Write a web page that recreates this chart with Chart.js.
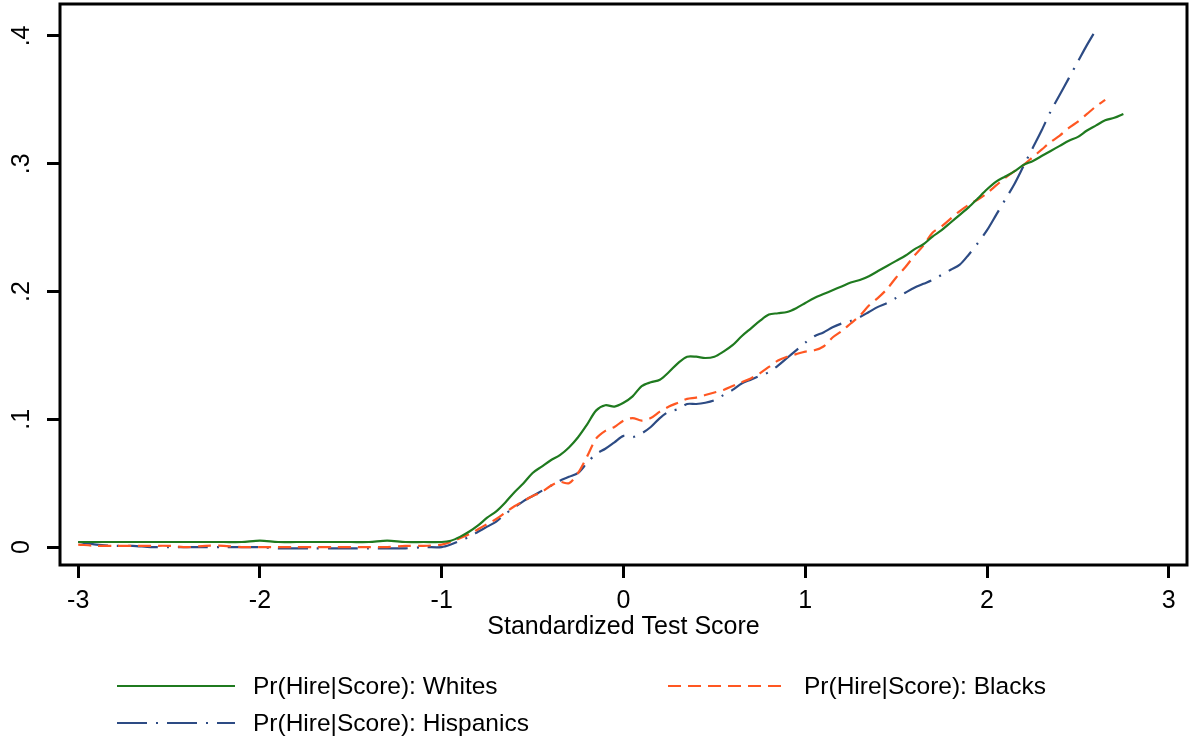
<!DOCTYPE html>
<html>
<head>
<meta charset="utf-8">
<script src="https://cdn.jsdelivr.net/npm/chart.js@4.4.1/dist/chart.umd.min.js"></script>
<style>
  html, body { margin: 0; padding: 0; background: #fff; }
  canvas { display: block; }
</style>
</head>
<body>
<canvas id="hirechart" width="1191" height="746"></canvas>
<script>
// standardized score grid (coarse on the flat left part)
const scores = [
    -3.0, -2.9, -2.8, -2.7, -2.6, -2.5, -2.4, -2.3, -2.2, -2.1,
    -2.0, -1.9, -1.8, -1.7, -1.6, -1.5, -1.4, -1.3, -1.2, -1.1,
    -1.0, -0.95, -0.9, -0.85, -0.8, -0.75, -0.7, -0.65, -0.6, -0.55,
    -0.5, -0.45, -0.4, -0.35, -0.3, -0.25, -0.2, -0.15, -0.1, -0.05,
    0.0, 0.05, 0.1, 0.15, 0.2, 0.25, 0.3, 0.35, 0.4, 0.45,
    0.5, 0.55, 0.6, 0.65, 0.7, 0.75, 0.8, 0.85, 0.9, 0.95,
    1.0, 1.05, 1.1, 1.15, 1.2, 1.25, 1.3, 1.35, 1.4, 1.45,
    1.5, 1.55, 1.6, 1.65, 1.7, 1.75, 1.8, 1.85, 1.9, 1.95,
    2.0, 2.05, 2.1, 2.15, 2.2, 2.25, 2.3, 2.35, 2.4, 2.45,
    2.5, 2.55, 2.6, 2.65, 2.7, 2.75
];

const whites = [
    0.004, 0.004, 0.004, 0.004, 0.004, 0.004, 0.004, 0.004, 0.004, 0.004,
    0.005, 0.004, 0.004, 0.004, 0.004, 0.004, 0.004, 0.005, 0.004, 0.004,
    0.004, 0.005, 0.008, 0.012, 0.017, 0.023, 0.028, 0.035, 0.043, 0.050,
    0.058, 0.063, 0.068, 0.072, 0.078, 0.086, 0.096, 0.107, 0.111, 0.110,
    0.113, 0.118, 0.126, 0.129, 0.131, 0.137, 0.144, 0.149, 0.149, 0.148,
    0.149, 0.153, 0.158, 0.165, 0.171, 0.177, 0.182, 0.183, 0.184, 0.187,
    0.191, 0.195, 0.198, 0.201, 0.204, 0.207, 0.209, 0.212, 0.216, 0.220,
    0.224, 0.228, 0.233, 0.237, 0.243, 0.248, 0.254, 0.260, 0.266, 0.273,
    0.280, 0.286, 0.290, 0.294, 0.299, 0.302, 0.306, 0.310, 0.314, 0.318,
    0.321, 0.326, 0.330, 0.334, 0.336, 0.339
];

const blacks = [
    0.002, 0.001, 0.001, 0.001, 0.001, 0.001, 0.000, 0.001, 0.001, 0.000,
    0.000, 0.000, 0.000, 0.000, 0.000, 0.000, 0.000, 0.000, 0.001, 0.001,
    0.002, 0.004, 0.007, 0.010, 0.014, 0.018, 0.022, 0.027, 0.032, 0.036,
    0.040, 0.043, 0.048, 0.051, 0.050, 0.058, 0.071, 0.085, 0.091, 0.094,
    0.099, 0.101, 0.099, 0.101, 0.106, 0.110, 0.113, 0.116, 0.117, 0.119,
    0.121, 0.123, 0.126, 0.129, 0.132, 0.136, 0.141, 0.146, 0.149, 0.151,
    0.153, 0.154, 0.157, 0.164, 0.169, 0.175, 0.181, 0.189, 0.195, 0.202,
    0.211, 0.219, 0.228, 0.236, 0.246, 0.251, 0.257, 0.263, 0.268, 0.272,
    0.277, 0.283, 0.289, 0.294, 0.299, 0.305, 0.311, 0.317, 0.322, 0.328,
    0.333, 0.339, 0.345, 0.350, null, null
];

const hispanics = [
    0.004, 0.002, 0.001, 0.001, 0.000, 0.000, 0.000, 0.000, 0.000, 0.000,
    0.000, -0.001, -0.001, -0.001, -0.001, -0.001, -0.001, -0.001, -0.001, 0.000,
    0.000, 0.002, 0.005, 0.008, 0.012, 0.016, 0.020, 0.026, 0.031, 0.036,
    0.040, 0.044, 0.048, 0.052, 0.055, 0.058, 0.066, 0.073, 0.077, 0.082,
    0.087, 0.086, 0.089, 0.094, 0.101, 0.106, 0.108, 0.112, 0.112, 0.113,
    0.115, 0.119, 0.123, 0.128, 0.131, 0.134, 0.137, 0.142, 0.148, 0.154,
    0.160, 0.165, 0.168, 0.172, 0.175, 0.177, 0.180, 0.184, 0.188, 0.191,
    0.195, 0.199, 0.203, 0.206, 0.209, 0.213, 0.217, 0.221, 0.229, 0.238,
    0.248, 0.260, 0.272, 0.284, 0.298, 0.312, 0.326, 0.341, 0.354, 0.367,
    0.380, 0.393, 0.405, null, null, null
];

const xTicks = [-3, -2, -1, 0, 1, 2, 3];
const yTicks = [0, 0.1, 0.2, 0.3, 0.4];
const yTickLabels = ['0', '.1', '.2', '.3', '.4'];

const FONT = "'Liberation Sans', Arial, sans-serif";

function points(ys)
{
    let out = [];
    scores.forEach((x, i) => {
        if (ys[i] !== null)
            out.push({ x: x, y: ys[i] });
    });
    return out;
}

// Stata-like legend: two columns under the plot
const legendSpots = [
    { x: 117, y: 686 },
    { x: 668, y: 686 },
    { x: 117, y: 723 }
];

const stataLegend = {
    id: 'stataLegend',
    afterDraw: function (chart)
    {
        const ctx = chart.ctx;
        chart.data.datasets.forEach((ds, i) => {
            const spot = legendSpots[i];
            ctx.save();
            ctx.strokeStyle = ds.borderColor;
            ctx.lineWidth = ds.borderWidth;
            ctx.setLineDash(ds.borderDash || []);
            ctx.beginPath();
            ctx.moveTo(spot.x, spot.y);
            ctx.lineTo(spot.x + 118, spot.y);
            ctx.stroke();
            ctx.setLineDash([]);
            ctx.fillStyle = '#000';
            ctx.font = '24.5px ' + FONT;
            ctx.textBaseline = 'middle';
            ctx.fillText(ds.label, spot.x + 136, spot.y + 1);
            ctx.restore();
        });
    }
};

const plotFrame = {
    id: 'plotFrame',
    afterDatasetsDraw: function (chart)
    {
        const a = chart.chartArea;
        const ctx = chart.ctx;
        ctx.save();
        ctx.strokeStyle = '#000';
        ctx.lineWidth = 3;
        ctx.strokeRect(a.left, a.top, a.right - a.left, a.bottom - a.top);
        ctx.restore();
    }
};

Chart.defaults.font.family = FONT;
Chart.defaults.font.size = 25;
Chart.defaults.color = '#000';

let ctx = document.getElementById('hirechart').getContext('2d');
new Chart(ctx,
{
    type: 'line',
    data: {
        datasets: [
            {
                label: 'Pr(Hire|Score): Whites',
                data: points(whites),
                borderColor: '#1f7a1f',
                borderWidth: 2.2,
                borderDash: [],
            },
            {
                label: 'Pr(Hire|Score): Blacks',
                data: points(blacks),
                borderColor: '#ff5722',
                borderWidth: 2.2,
                borderDash: [13, 7],
            },
            {
                label: 'Pr(Hire|Score): Hispanics',
                data: points(hispanics),
                borderColor: '#2d4b84',
                borderWidth: 2.2,
                borderDash: [30, 9, 2, 9],
            }
        ]
    },
    options: {
        responsive: false,
        animation: false,
        devicePixelRatio: 1,
        layout: { padding: { left: 0, top: 4, right: 4, bottom: 101 } },
        elements: {
            point: { radius: 0 },
            line: { tension: 0.3, fill: false }
        },
        plugins: {
            legend: { display: false },
            tooltip: { enabled: false }
        },
        scales: {
            x: {
                type: 'linear',
                min: -3.1,
                max: 3.1,
                afterFit: (s) => {
                    s.height = 80;
                    s.paddingLeft = 0;
                    s.paddingRight = 0;
                },
                afterBuildTicks: (s) => { s.ticks = xTicks.map((v) => { return { value: v } }); },
                ticks: {
                    autoSkip: false,
                    padding: 8,
                    maxRotation: 0,
                    callback: (v) => String(v)
                },
                grid: {
                    display: true,
                    drawOnChartArea: false,
                    drawTicks: true,
                    tickLength: 13,
                    tickWidth: 3,
                    tickColor: '#000'
                },
                border: { display: false },
                title: {
                    display: true,
                    text: 'Standardized Test Score',
                    padding: { top: 0, bottom: 3 }
                }
            },
            y: {
                type: 'linear',
                min: -0.014,
                max: 0.425,
                afterFit: (s) => {
                    s.width = 60;
                    s.paddingTop = 0;
                    s.paddingBottom = 0;
                },
                afterBuildTicks: (s) => { s.ticks = yTicks.map((v) => { return { value: v } }); },
                ticks: {
                    autoSkip: false,
                    minRotation: 90,
                    maxRotation: 90,
                    crossAlign: 'center',
                    padding: 14,
                    callback: (v, i) => yTickLabels[i]
                },
                grid: {
                    display: true,
                    drawOnChartArea: false,
                    drawTicks: true,
                    tickLength: 13,
                    tickWidth: 3,
                    tickColor: '#000'
                },
                border: { display: false }
            }
        }
    },
    plugins: [stataLegend, plotFrame]
});
</script>
</body>
</html>
